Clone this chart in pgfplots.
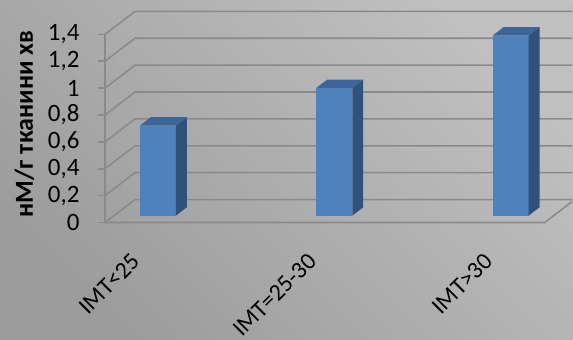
\documentclass[border=0pt]{standalone}
\usepackage{fontspec}
\setmainfont{Carlito}
\usepackage{pgfplots}
\usepackage{pgfplotstable}
\pgfplotsset{compat=1.18}
\definecolor{gridg}{HTML}{8A8A8A}
\definecolor{bfront}{HTML}{4F81BD}
\definecolor{bside}{HTML}{30527A}
\definecolor{btop}{HTML}{3C6599}
\definecolor{bglight}{HTML}{C0C0C0}
\definecolor{bgdark}{HTML}{9C9C9C}

\pgfplotstableread{
x v
0 0.67
1 0.95
2 1.34
}\bardata

% oblique projection of the depth axis (in data units)
\def\DX{0.170}\def\DY{0.171}
\def\HW{0.102}\def\DF{0.30}\def\DB{0.665}

\newcommand\cuboid[2]{%
 \pgfmathsetmacro\xa{#1+\DF*\DX-\HW}%
 \pgfmathsetmacro\xb{#1+\DF*\DX+\HW}%
 \pgfmathsetmacro\ya{\DF*\DY}%
 \pgfmathsetmacro\yb{#2+\DF*\DY}%
 \pgfmathsetmacro\xc{\xb+(\DB-\DF)*\DX}%
 \pgfmathsetmacro\xd{\xa+(\DB-\DF)*\DX}%
 \pgfmathsetmacro\yc{\ya+(\DB-\DF)*\DY}%
 \pgfmathsetmacro\yd{\yb+(\DB-\DF)*\DY}%
 \edef\tmp{%
  \noexpand\addplot[draw=none,fill=bfront] coordinates {(\xa,\ya) (\xb,\ya) (\xb,\yb) (\xa,\yb)};
  \noexpand\addplot[draw=none,fill=bside] coordinates {(\xb,\ya) (\xc,\yc) (\xc,\yd) (\xb,\yb)};
  \noexpand\addplot[draw=none,fill=btop] coordinates {(\xa,\yb) (\xb,\yb) (\xc,\yd) (\xd,\yd)};
 }\tmp
}
\newcommand\gridline[1]{%
 \pgfmathsetmacro\ga{#1+\DY}%
 \edef\tmp{\noexpand\addplot[draw=gridg,line width=1.6pt] coordinates {(-0.249,#1) (-0.079,\ga) (2.40,\ga)};}\tmp
}

\begin{document}
\begin{tikzpicture}
\begin{axis}[
 x=176.5pt, y=134.5pt,
 xmin=-0.249, xmax=2.244, ymin=0, ymax=1.4,
 clip=false, axis on top,
 axis lines*=left,
 x axis line style={draw=none},
 y axis line style={draw=gridg, line width=1.6pt},
 tick align=outside, major tick length=7pt,
 xtick={-0.105,0.895,1.895},
 xticklabels={IMT<25, IMT=25-30, IMT>30},
 xtick style={draw=none},
 xticklabel style={yshift=-22pt, rotate=45, anchor=north east, inner sep=0pt, font=\fontsize{24}{24}\selectfont},
 ytick={0,0.2,0.4,0.6,0.8,1,1.2,1.4},
 ytick style={draw=gridg, line width=1.6pt},
 yticklabel style={xshift=-15pt, anchor=east, font=\fontsize{25}{25}\selectfont},
 /pgf/number format/assume math mode=true,
 /pgf/number format/use comma,
 ylabel={нМ/г тканини хв},
 every axis y label/.style={at={(axis description cs:-0.1835,0.524)}, rotate=90, anchor=center, font=\bfseries\fontsize{26}{26}\selectfont},
]
\shade[top color=bglight, bottom color=bgdark, shading angle=-45]
  (axis cs:-0.8442,-0.8721) rectangle (axis cs:2.4023,1.6558);
\gridline{0}\gridline{0.2}\gridline{0.4}\gridline{0.6}
\gridline{0.8}\gridline{1}\gridline{1.2}\gridline{1.4}
\addplot[draw=gridg,line width=1.6pt] coordinates {(-0.249,0) (2.244,0) (2.40,0.157)};
\pgfplotsinvokeforeach{0,1,2}{%
 \pgfplotstablegetelem{#1}{v}\of\bardata
 \let\barval\pgfplotsretval
 \cuboid{#1}{\barval}
}
\end{axis}
\end{tikzpicture}
\end{document}
